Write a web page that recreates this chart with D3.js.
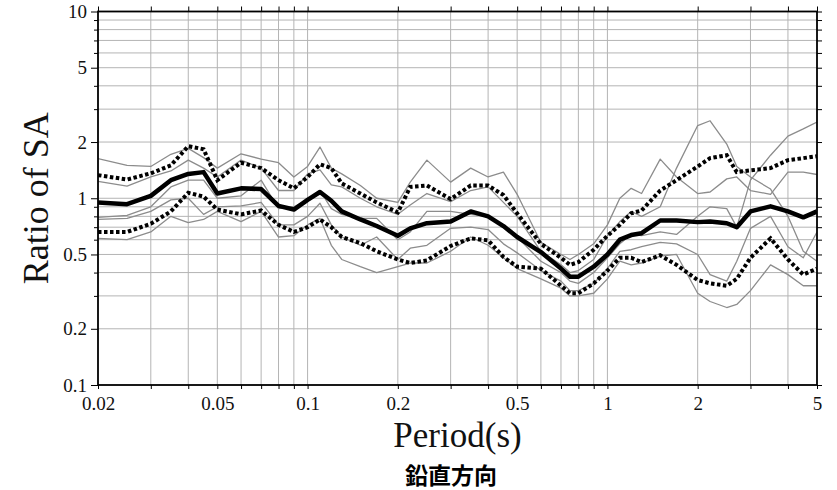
<!DOCTYPE html>
<html><head><meta charset="utf-8">
<script src="https://cdn.jsdelivr.net/npm/d3@7"></script>
<style>body{margin:0;background:#fff}svg{display:block}</style>
</head><body>
<script>
const periods = [0.02,0.025,0.03,0.035,0.04,0.045,0.05,0.06,0.07,0.08,0.09,0.1,0.11,0.12,0.13,0.15,0.17,0.2,0.22,0.25,0.3,0.35,0.4,0.45,0.5,0.6,0.7,0.75,0.8,0.9,1.0,1.1,1.2,1.3,1.5,1.7,2.0,2.2,2.5,2.7,3.0,3.5,4.0,4.5,5.0];
const meanRatio = [0.95,0.93,1.03,1.25,1.35,1.38,1.06,1.13,1.12,0.91,0.87,0.98,1.08,0.97,0.85,0.77,0.71,0.63,0.69,0.735,0.75,0.85,0.80,0.71,0.62,0.515,0.42,0.38,0.38,0.43,0.50,0.60,0.635,0.65,0.76,0.76,0.745,0.75,0.735,0.70,0.85,0.905,0.85,0.79,0.85];
const plusSigma = [1.33,1.26,1.36,1.50,1.90,1.83,1.25,1.55,1.45,1.25,1.13,1.30,1.52,1.45,1.20,1.06,0.95,0.84,1.15,1.17,0.99,1.17,1.17,1.04,0.83,0.57,0.48,0.44,0.455,0.53,0.63,0.72,0.83,0.86,1.10,1.25,1.48,1.64,1.70,1.38,1.41,1.45,1.60,1.64,1.68];
const minusSigma = [0.66,0.66,0.73,0.85,1.07,1.02,0.87,0.82,0.86,0.72,0.66,0.70,0.77,0.70,0.62,0.575,0.52,0.47,0.45,0.465,0.555,0.61,0.595,0.485,0.43,0.42,0.34,0.31,0.31,0.35,0.41,0.48,0.48,0.455,0.495,0.44,0.365,0.35,0.34,0.37,0.48,0.61,0.47,0.39,0.42];
const record1 = [1.63,1.50,1.48,1.72,1.85,1.65,1.45,1.73,1.62,1.55,1.30,1.48,1.88,1.45,1.35,1.17,1.00,0.95,1.22,1.60,1.22,1.45,1.30,1.38,1.05,0.58,0.50,0.47,0.50,0.57,0.72,1.00,1.13,1.06,1.62,1.30,1.06,1.08,1.27,1.30,1.10,1.05,1.38,1.38,1.34];
const record2 = [1.23,1.16,1.30,1.40,1.60,1.45,1.30,1.60,1.45,1.10,1.10,1.35,1.42,1.18,1.15,1.00,0.90,0.82,0.92,1.06,0.96,1.10,1.15,0.95,0.80,0.52,0.44,0.40,0.41,0.47,0.63,0.75,0.85,0.80,0.90,1.45,2.45,2.60,1.95,1.48,1.30,1.12,0.80,0.52,0.46];
const record3 = [0.79,0.81,0.90,1.15,1.25,1.25,1.00,1.03,1.25,0.88,0.90,0.98,1.10,0.88,0.82,0.78,0.78,0.60,0.66,0.85,0.85,0.82,0.80,0.72,0.62,0.46,0.40,0.36,0.35,0.40,0.48,0.57,0.64,0.63,0.66,0.64,0.80,0.90,0.88,0.70,1.25,1.70,2.15,2.35,2.56];
const record4 = [0.77,0.78,0.85,0.98,1.00,0.82,0.90,0.91,0.95,0.72,0.72,0.80,0.94,0.72,0.62,0.56,0.62,0.47,0.54,0.56,0.69,0.70,0.68,0.57,0.51,0.41,0.36,0.32,0.32,0.35,0.42,0.52,0.53,0.55,0.58,0.57,0.50,0.39,0.36,0.46,0.69,0.80,0.55,0.48,0.66];
const record5 = [0.61,0.60,0.66,0.80,0.74,0.77,0.85,0.75,0.85,0.62,0.63,0.72,0.78,0.56,0.47,0.43,0.40,0.43,0.45,0.45,0.52,0.62,0.56,0.48,0.42,0.37,0.33,0.30,0.30,0.31,0.37,0.46,0.44,0.45,0.49,0.50,0.31,0.28,0.26,0.27,0.32,0.44,0.39,0.34,0.34];
const xTickLabels = ["0.02","0.05","0.1","0.2","0.5","1","2","5"];
const yTickLabels = ["0.1","0.2","0.5","1","2","5","10"];
const xTitle = "Period(s)";
const yTitle = "Ratio of SA";
const caption = "鉛直方向";

const W = 837, H = 490;
const L = 98, R = 817, T = 11.5, B = 385;
const x = d3.scaleLog().domain([0.02, 5]).range([L, R]);
const y = d3.scaleLog().domain([0.1, 10]).range([B, T]);

function logSteps(lo, hi) {
  const out = [];
  for (const d of [0.01, 0.1, 1, 10]) for (let k = 1; k <= 9; k++) {
    const v = +(k * d).toPrecision(3);
    if (v >= lo - 1e-9 && v <= hi + 1e-9) out.push(v);
  }
  return Array.from(new Set(out));
}
const xGrid = logSteps(0.02, 5);
const yGrid = logSteps(0.1, 10);

const svg = d3.select("body").append("svg").attr("width", W).attr("height", H);
const serif = "'Liberation Serif','Times New Roman',serif";

// grid
svg.append("g").selectAll("line").data(xGrid.filter(v => v > 0.02 && v < 5)).join("line")
  .attr("x1", d => x(d)).attr("x2", d => x(d)).attr("y1", T).attr("y2", B)
  .attr("stroke", "#b4b4b4").attr("stroke-width", 1);
svg.append("g").selectAll("line").data(yGrid.filter(v => v > 0.1 && v < 10)).join("line")
  .attr("x1", L).attr("x2", R).attr("y1", d => y(d)).attr("y2", d => y(d))
  .attr("stroke", "#b4b4b4").attr("stroke-width", 1);

const line = d3.line().x((d, i) => x(periods[i])).y(d => y(d));
svg.append("clipPath").attr("id", "c").append("rect")
  .attr("x", L).attr("y", T).attr("width", R - L).attr("height", B - T);
const plot = svg.append("g").attr("clip-path", "url(#c)");

[record1, record2, record3, record4, record5].forEach(r => {
  plot.append("path").attr("d", line(r)).attr("fill", "none")
    .attr("stroke", "#8c8c8c").attr("stroke-width", 1.3).attr("stroke-linejoin", "round");
});
[plusSigma, minusSigma].forEach(r => {
  plot.append("path").attr("d", line(r)).attr("fill", "none")
    .attr("stroke", "#000").attr("stroke-width", 4).attr("stroke-dasharray", "3.5,2.5");
});
plot.append("path").attr("d", line(meanRatio)).attr("fill", "none")
  .attr("stroke", "#000").attr("stroke-width", 4.5).attr("stroke-linejoin", "round");

// axes
const fmtX = d => { const s = String(d); return xTickLabels.includes(s) ? s : ""; };
const fmtY = d => { const s = String(d); return yTickLabels.includes(s) ? s : ""; };
const gx = svg.append("g").attr("transform", `translate(0,${B})`)
  .call(d3.axisBottom(x).tickValues(xGrid).tickFormat(fmtX).tickSize(4).tickSizeOuter(0).tickPadding(8));
const gy = svg.append("g").attr("transform", `translate(${L},0)`)
  .call(d3.axisLeft(y).tickValues(yGrid).tickFormat(fmtY).tickSize(4).tickSizeOuter(0).tickPadding(7));
gy.selectAll(".tick").filter(d => fmtY(d) !== "").select("line").attr("x2", -7);
const gt = svg.append("g").attr("transform", `translate(0,${T})`)
  .call(d3.axisTop(x).tickValues(xGrid).tickFormat("").tickSize(5).tickSizeOuter(0));
const gr = svg.append("g").attr("transform", `translate(${R},0)`)
  .call(d3.axisRight(y).tickValues(yGrid).tickFormat("").tickSize(5).tickSizeOuter(0));
[gx, gy, gt, gr].forEach(g => {
  g.select(".domain").remove();
  g.selectAll(".tick line").attr("stroke", "#000").attr("stroke-width", 1);
  g.selectAll("text").attr("font-family", serif).attr("font-size", 19).attr("fill", "#111");
});

svg.append("rect").attr("x", L).attr("y", T).attr("width", R - L).attr("height", B - T)
  .attr("fill", "none").attr("stroke", "#000").attr("stroke-width", 1.8);

svg.append("text").attr("x", (L + R) / 2).attr("y", 447).attr("text-anchor", "middle")
  .attr("font-family", serif).attr("font-size", 35).attr("fill", "#111").text(xTitle);
svg.append("text").attr("transform", `translate(48,${(T + B) / 2}) rotate(-90)`).attr("text-anchor", "middle")
  .attr("font-family", serif).attr("font-size", 36).attr("fill", "#111").text(yTitle);
svg.append("text").attr("x", 451).attr("y", 484).attr("text-anchor", "middle")
  .attr("font-family", "'Noto Sans CJK JP',sans-serif").attr("font-weight", "bold")
  .attr("font-size", 23).attr("fill", "#000").text(caption);
</script>
</body></html>
